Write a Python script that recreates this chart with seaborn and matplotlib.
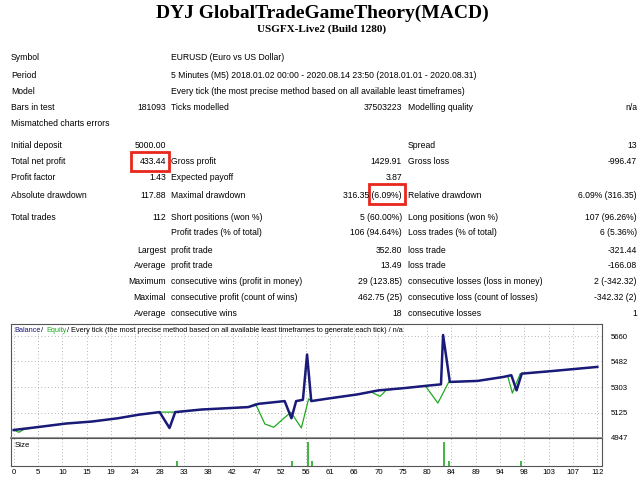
import matplotlib
matplotlib.use("Agg")
import matplotlib.pyplot as plt
import seaborn as sns
from matplotlib.patches import Rectangle

bal_x = [0, 5, 10, 15, 20, 24, 28, 29.9, 31, 36, 45, 47, 52, 53.3, 54.2, 55.5, 56.3, 57.1, 60, 66, 70, 75, 80, 82, 82.4, 83.7, 89, 94, 95.5, 96.5, 97.5, 103, 112]
bal_y = [5003, 5025, 5048, 5062, 5085, 5110, 5128, 5017, 5128, 5146, 5163, 5186, 5205, 5085, 5205, 5214, 5531, 5205, 5221, 5252, 5280, 5296, 5315, 5322, 5667, 5339, 5346, 5374, 5386, 5280, 5397, 5414, 5444]
eq_x = [0, 1, 2, 5, 10, 15, 20, 24, 28, 31, 36, 45, 46.4, 48.2, 49.9, 52, 53.2, 55.2, 56.6, 57.1, 60, 66, 68.5, 70.3, 71.5, 75, 79, 81.4, 83.5, 89, 94, 94.8, 95.7, 97.2, 103, 112]
eq_y = [5003, 4987, 5008, 5025, 5048, 5062, 5085, 5110, 5128, 5128, 5146, 5163, 5186, 5045, 5022, 5090, 5127, 5017, 5221, 5205, 5221, 5252, 5270, 5238, 5282, 5296, 5312, 5191, 5339, 5346, 5374, 5380, 5261, 5397, 5414, 5444]
size_x = [31.3, 53.5, 56.4, 57.2, 82.5, 83.6, 97.3]
size_h = [0.22, 0.2, 1.0, 0.2, 1.0, 0.2, 0.2]
y_ticks = [4947, 5125, 5303, 5482, 5660]
x_labels = [0, 5, 10, 15, 19, 24, 28, 33, 38, 42, 47, 52, 56, 61, 66, 70, 75, 80, 84, 89, 94, 98, 103, 107, 112]

rows1 = [("Symbol", "", "EURUSD (Euro vs US Dollar)", "", "", ""),
         ("Period", "", "5 Minutes (M5) 2018.01.02 00:00 - 2020.08.14 23:50 (2018.01.01 - 2020.08.31)", "", "", ""),
         ("Model", "", "Every tick (the most precise method based on all available least timeframes)", "", "", ""),
         ("Bars in test", "181093", "Ticks modelled", "37503223", "Modelling quality", "n/a"),
         ("Mismatched charts errors", "", "", "", "", ""),
         ("Initial deposit", "5000.00", "", "", "Spread", "13"),
         ("Total net profit", "433.44", "Gross profit", "1429.91", "Gross loss", "-996.47"),
         ("Profit factor", "1.43", "Expected payoff", "3.87", "", ""),
         ("Absolute drawdown", "117.88", "Maximal drawdown", "316.35 (6.09%)", "Relative drawdown", "6.09% (316.35)"),
         ("Total trades", "112", "Short positions (won %)", "5 (60.00%)", "Long positions (won %)", "107 (96.26%)")]
rows1_y = [58, 75, 91, 107, 123, 146, 162, 178, 195, 217]
rows2 = [("", "Profit trades (% of total)", "106 (94.64%)", "Loss trades (% of total)", "6 (5.36%)"),
         ("Largest", "profit trade", "352.80", "loss trade", "-321.44"),
         ("Average", "profit trade", "13.49", "loss trade", "-166.08"),
         ("Maximum", "consecutive wins (profit in money)", "29 (123.85)", "consecutive losses (loss in money)", "2 (-342.32)"),
         ("Maximal", "consecutive profit (count of wins)", "462.75 (25)", "consecutive loss (count of losses)", "-342.32 (2)"),
         ("Average", "consecutive wins", "18", "consecutive losses", "1")]
rows2_y = [233, 250, 266, 282, 298, 314]

W, H = 640, 480
fig = plt.figure(figsize=(6.4, 4.8), dpi=100)
fig.patch.set_facecolor("white")
fs = 6.2
fam = "Liberation Sans"
def T(x, y, s, ha="left", **kw):
    kw.setdefault("fontsize", fs); kw.setdefault("family", fam)
    fig.text(x / W, 1 - y / H, s, ha=ha, va="center", **kw)

T(322, 13, "DYJ GlobalTradeGameTheory(MACD)", ha="center", fontsize=14, family="Liberation Serif", weight="bold")
T(322, 29, "USGFX-Live2 (Build 1280)", ha="center", fontsize=8, family="Liberation Serif", weight="bold")
for (a, b, c, d, e, f), y in zip(rows1, rows1_y):
    T(11, y, a); T(166, y, b, ha="right"); T(171, y, c)
    T(402, y, d, ha="right"); T(408, y, e); T(637, y, f, ha="right")
for (a, c, d, e, f), y in zip(rows2, rows2_y):
    T(166, y, a, ha="right"); T(171, y, c)
    T(402, y, d, ha="right"); T(408, y, e); T(637, y, f, ha="right")
for (x0, y0, x1, y1) in [(131, 152, 169, 171), (369, 184, 405, 204)]:
    fig.patches.append(Rectangle((x0 / W, 1 - y1 / H), (x1 - x0) / W, (y1 - y0) / H,
                                 transform=fig.transFigure, fill=False, ec="#e8261c", lw=2))

L, R = 11, 602
ax = fig.add_axes([L / W, 1 - 438 / H, (R - L) / W, 114 / H])
axv = fig.add_axes([L / W, 1 - 466 / H, (R - L) / W, 28 / H])
xmin, xmax = -0.52, 112.9
xt = [i * 112 / 24 for i in range(25)]
sns.lineplot(x=eq_x, y=eq_y, ax=ax, color="#1faa1f", lw=0.9)
sns.lineplot(x=bal_x, y=bal_y, ax=ax, color="#1a1a7a", lw=1.8)
ax.set_xlim(xmin, xmax); ax.set_ylim(4947, 5744)
ax.set_yticks(y_ticks); ax.set_xticks(xt)
ax.grid(True, ls=(0, (1, 3)), color="#999999", lw=0.6)
ax.tick_params(labelleft=False, labelbottom=False, labelright=True, left=False, bottom=False, right=False, labelsize=5.6, pad=3)
for lab in ax.get_yticklabels():
    lab.set_family(fam)
axv.vlines(size_x, 0, size_h, color="#1faa1f", lw=1.2)
axv.set_xlim(xmin, xmax); axv.set_ylim(0, 1.15)
axv.set_xticks(xt); axv.set_xticklabels([str(v) for v in x_labels], fontsize=5.6, family=fam)
axv.set_yticks([])
axv.grid(True, axis="x", ls=(0, (1, 3)), color="#999999", lw=0.6)
axv.tick_params(length=0, pad=2)
axv.text(0.006, 0.72, "Size", transform=axv.transAxes, fontsize=5.6, family=fam, va="center")
for a in (ax, axv):
    for s in a.spines.values():
        s.set_color("#555555"); s.set_linewidth(0.8)
ax.spines["bottom"].set_color("#999999"); ax.spines["bottom"].set_linewidth(1.5)
T(14, 330, "Balance", color="#1a1a7a", fontsize=5.3)
T(41, 330, "/", fontsize=5.3)
T(46, 330, "Equity", color="#1faa1f", fontsize=5.3)
T(67, 330, "/ Every tick (the most precise method based on all available least timeframes to generate each tick) / n/a", fontsize=5.3)
fig.savefig("out.png", dpi=100)
